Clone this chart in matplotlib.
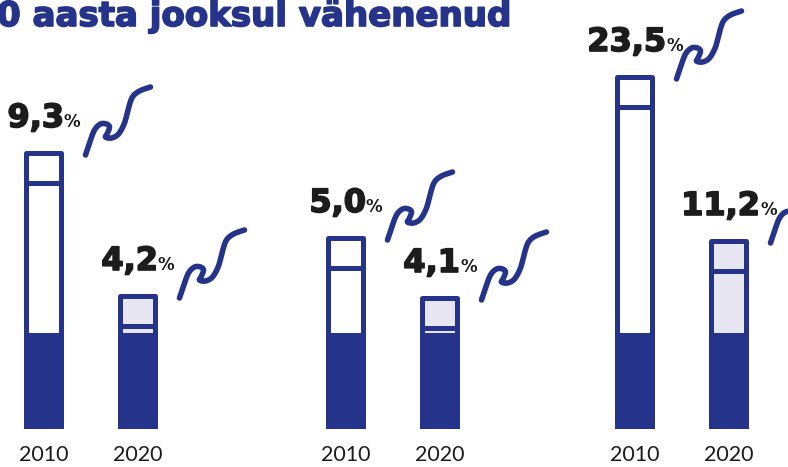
"""Infographic: share of people, 2010 vs 2020, three groups"""

import matplotlib.pyplot as plt
import matplotlib.patheffects as pe
import numpy as np
from matplotlib.offsetbox import TextArea, HPacker, AnnotationBbox

NAVY = '#25338a'
LAV = '#e8e6f3'
INK = '#1c1c1c'

title = '0 aasta jooksul vähenenud'
years = ['2010', '2020']
labels = [['9,3', '4,2'], ['5,0', '4,1'], ['23,5', '11,2']]
# visual bar heights (the bars are not drawn to one common scale)
heights = [[273, 130], [188, 128], [349, 185]]
base_level = 91      # dark part at the bottom of every bar
mark_gap = 30        # crossbar below the top

group_x = [91, 393, 682]
pair_off = 47
bar_w = 35
lw = 3.6

# squiggle shape, pixel offsets from its lower-left end (y up)
sq = np.array([(0, 0), (4, 12), (9, 25), (15, 31), (21, 31), (24, 28),
               (22, 22), (20, 18), (26, 17), (33, 21), (39, 32), (43, 47),
               (47, 58), (54, 64), (65, 68)], float)


def smooth(pts, n=12):
    p = np.vstack([pts[0], pts, pts[-1]])
    out = []
    for i in range(1, len(p) - 2):
        p0, p1, p2, p3 = p[i-1], p[i], p[i+1], p[i+2]
        for t in np.linspace(0, 1, n, endpoint=False):
            out.append(0.5 * (2*p1 + (-p0 + p2)*t + (2*p0 - 5*p1 + 4*p2 - p3)*t**2
                              + (-p0 + 3*p1 - 3*p2 + p3)*t**3))
    out.append(pts[-1])
    return np.array(out)


fig = plt.figure(figsize=(7.88, 4.67), dpi=100)
ax = fig.add_axes([0, 0, 1, 1])
ax.set_xlim(0, 788)
ax.set_ylim(-41, 426)
ax.axis('off')

curve = smooth(sq)
thick = [pe.withStroke(linewidth=1.2, foreground=INK)]

for g, gx in enumerate(group_x):
    for k, yr in enumerate(years):
        x = gx + (k*2 - 1) * pair_off
        h = heights[g][k]
        top_color = 'white' if k == 0 else LAV
        ax.bar(x, h, width=bar_w, color=top_color, edgecolor='none', zorder=1)
        ax.bar(x, base_level, width=bar_w, color=NAVY, edgecolor=NAVY,
               linewidth=lw, zorder=2)
        ax.bar(x, h, width=bar_w, fill=False, edgecolor=NAVY, linewidth=lw,
               zorder=3, joinstyle='round')
        ax.hlines(h - mark_gap, x - bar_w/2, x + bar_w/2, color=NAVY,
                  linewidth=lw, zorder=3)

        ax.text(x, -29, yr, ha='center', va='center', fontsize=15.5,
                family='Lato', fontweight='normal', color=INK)

        num = TextArea(labels[g][k], textprops=dict(fontsize=23, fontweight='bold',
                                                     color=INK, family='DejaVu Sans',
                                                     path_effects=thick))
        pct = TextArea('%', textprops=dict(fontsize=12, fontweight='bold',
                                           color=INK, family='DejaVu Sans'))
        box = HPacker(children=[num, pct], align='baseline', sep=0, pad=0)
        ab = AnnotationBbox(box, (x, h + 19), box_alignment=(0.5, 0),
                            frameon=False, pad=0)
        ax.add_artist(ab)

        sx, sy = x + bar_w/2 + 24, h - 2
        ax.plot(curve[:, 0] + sx, curve[:, 1] + sy, color=NAVY, linewidth=4,
                solid_capstyle='round', zorder=4, clip_on=False)

ax.text(-3, 400, title, ha='left', va='baseline', fontsize=24.5,
        fontweight='bold', color=NAVY, family='DejaVu Sans',
        path_effects=[pe.withStroke(linewidth=1.2, foreground=NAVY)])

fig.savefig('out.png', dpi=100)
